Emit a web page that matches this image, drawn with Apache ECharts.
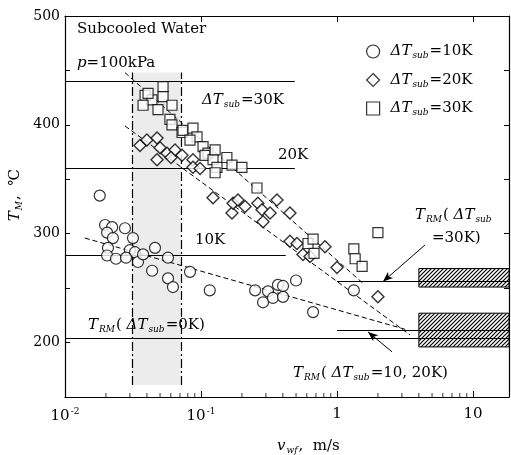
<!DOCTYPE html>
<html>
<head>
<meta charset="utf-8">
<title>T_M vs v_wf</title>
<script src="https://cdn.jsdelivr.net/npm/echarts@6.0.0/dist/echarts.min.js"></script>
<style>html,body{margin:0;padding:0;background:#fff;}</style>
</head>
<body>
<div id="main" style="width:511px;height:455px;"></div>
<script type="text/javascript">
var SERIF = '"DejaVu Serif", "Liberation Serif", serif';

// 测点 [v_wf (m/s), T_M (℃)]
var circles10K = [
    [0.018, 335], [0.0197, 308], [0.0222, 306], [0.0276, 305], [0.0204, 301], [0.0225, 296], [0.0316, 296],
    [0.0207, 287], [0.030, 285], [0.0327, 283], [0.0459, 287], [0.0204, 280], [0.0237, 277], [0.0281, 278],
    [0.0344, 274], [0.0375, 281], [0.0572, 278], [0.0437, 266], [0.0572, 259], [0.0622, 251], [0.083, 265],
    [0.116, 248], [0.25, 248], [0.311, 247], [0.286, 237], [0.338, 241], [0.368, 253], [0.401, 252],
    [0.401, 242], [0.50, 257], [0.667, 228], [1.33, 248]
];
var diamonds20K = [
    [0.0356, 381], [0.040, 386], [0.0475, 388], [0.050, 379], [0.0475, 368], [0.0563, 374], [0.0644, 377],
    [0.0602, 370], [0.0725, 372], [0.0873, 368], [0.0873, 361], [0.0984, 360], [0.1226, 333], [0.169, 319],
    [0.172, 328], [0.187, 331], [0.211, 325], [0.262, 328], [0.281, 322], [0.322, 319], [0.286, 311],
    [0.362, 331], [0.451, 319], [0.451, 293], [0.508, 291], [0.562, 281], [0.633, 279], [0.816, 288],
    [1.0, 269], [2.0, 242]
];
var squares30K = [
    [0.0388, 427], [0.0436, 423], [0.0526, 435], [0.0526, 426], [0.0375, 418], [0.0483, 414], [0.0612, 418],
    [0.0408, 429], [0.0591, 405], [0.0612, 400], [0.0725, 393], [0.0737, 395], [0.0873, 397], [0.0935, 389],
    [0.083, 386], [0.1035, 380], [0.1125, 374], [0.107, 372], [0.1226, 368], [0.127, 377], [0.131, 361],
    [0.127, 356], [0.155, 370], [0.169, 363], [0.200, 361], [0.258, 342], [0.612, 291], [0.667, 295],
    [0.678, 282], [1.33, 286], [1.36, 277], [1.53, 270], [2.0, 301]
];

// 拟合虚线
var fit10K = [[0.014, 296], [3.27, 211.7]];
var fit20K = [[0.0276, 399], [3.44, 207]];
var fit30K = [[0.0276, 448], [1.6, 253]];

// 水平参考线 (ΔT_sub = 30K, 20K, 10K)
var levelT = [440, 360, 280];
var levelEnd = [0.49, 0.49, 0.42];
// T_RM 线: 0K, 10/20K, 30K
var trmT = [204, 211.7, 256];
var trmStart = [0.01, 1, 1];
// 阴影区 & 斜线带
var shadeV = [0.031, 0.071];
var shadeT = [161, 448];
var bandStartV = 4;
var bandUpper = [251, 268];
var bandLower = [196, 227];
// 箭头 [起点, 终点]
var arrows = [
    [[4.44, 289.7], [2.18, 256]],
    [[2.54, 191.5], [1.69, 209.8]]
];

// 坐标轴刻度
var xMin = 0.01, xMax = 18.4;
var yMin = 150, yMax = 500;
var xTickValues = [0.01, 0.1, 1, 10];
var xTickLabels = ['10{sup|-2}', '10{sup|-1}', '1', '10'];
var xMinorTicks = [0.02, 0.03, 0.04, 0.05, 0.06, 0.07, 0.08, 0.09,
    0.2, 0.3, 0.4, 0.5, 0.6, 0.7, 0.8, 0.9, 2, 3, 4, 5, 6, 7, 8, 9];
var yTickLabels = [200, 300, 400, 500];

// 斜线填充
var hatch = document.createElement('canvas');
hatch.width = 4; hatch.height = 4;
var hc = hatch.getContext('2d');
hc.fillStyle = '#fff'; hc.fillRect(0, 0, 4, 4);
hc.strokeStyle = '#000'; hc.lineWidth = 1.2;
hc.beginPath();
hc.moveTo(0, 4); hc.lineTo(4, 0);
hc.moveTo(-1, 1); hc.lineTo(1, -1);
hc.moveTo(3, 5); hc.lineTo(5, 3);
hc.stroke();

var rich = {
    n: { fontSize: 15, fontFamily: SERIF, color: '#000' },
    i: { fontSize: 15, fontFamily: SERIF, fontStyle: 'italic', color: '#000' },
    s: { fontSize: 9, fontFamily: SERIF, fontStyle: 'italic', color: '#000', padding: [9, 1, 0, 1] },
    sup: { fontSize: 9, fontFamily: SERIF, color: '#000', padding: [0, 0, 9, 1] }
};

function txt(x, y, text) {
    return {
        type: 'text', x: x, y: y, silent: true,
        style: { text: text, rich: rich, verticalAlign: 'middle', fill: '#000' }
    };
}

var legendNames = {
    c10: '{i|ΔT}{s|sub}{n|=10K}',
    d20: '{i|ΔT}{s|sub}{n|=20K}',
    s30: '{i|ΔT}{s|sub}{n|=30K}'
};

var hLines = [];
levelT.forEach(function (t, k) {
    hLines.push([{ coord: [xMin, t] }, { coord: [levelEnd[k], t] }]);
});
trmT.forEach(function (t, k) {
    hLines.push([{ coord: [trmStart[k], t] }, { coord: [xMax, t] }]);
});
var vLines = shadeV.map(function (v) {
    return [{ coord: [v, shadeT[0]], lineStyle: { type: [9, 3, 2, 3], width: 1.2, color: '#000' } }, { coord: [v, shadeT[1]] }];
});
var arrowLines = arrows.map(function (a) {
    return [{ coord: a[0] }, { coord: a[1] }];
});

function fitSeries(data) {
    return {
        type: 'line', data: data, symbol: 'none', silent: true, z: 3,
        lineStyle: { color: '#000', width: 1, type: [5, 3] }
    };
}

var openStyle = { color: '#fff', borderColor: '#000', borderWidth: 1.2 };

var myChart = echarts.init(document.getElementById('main'));
myChart.setOption({
    animation: false,
    backgroundColor: '#fff',
    textStyle: { fontFamily: SERIF },
    grid: { left: 65, right: 2, top: 16, bottom: 58 },
    legend: {
        orient: 'vertical', left: 361, top: 39,
        itemWidth: 13, itemHeight: 13, itemGap: 12,
        data: ['c10', 'd20', 's30'],
        itemStyle: openStyle,
        formatter: function (name) { return legendNames[name]; },
        textStyle: { rich: rich, padding: [0, 0, 0, 6] }
    },
    xAxis: [{
        type: 'log', min: xMin, max: xMax, logBase: 10,
        axisLine: { lineStyle: { color: '#000', width: 1.2 } },
        axisTick: { inside: true, length: 6, lineStyle: { color: '#000' } },
        splitLine: { show: false },
        axisLabel: {
            margin: 10, showMinLabel: true, showMaxLabel: false, rich: rich,
            fontFamily: SERIF, fontSize: 15, color: '#000',
            formatter: function (v) {
                for (var k = 0; k < xTickValues.length; k++) {
                    if (Math.abs(Math.log10(v) - Math.log10(xTickValues[k])) < 1e-6) return xTickLabels[k];
                }
                return '';
            }
        }
    }, {
        type: 'log', min: xMin, max: xMax, logBase: 10, position: 'top',
        axisLine: { lineStyle: { color: '#000', width: 1.2 } },
        axisTick: { inside: true, length: 6, lineStyle: { color: '#000' } },
        axisLabel: { show: false }, splitLine: { show: false }
    }],
    yAxis: [{
        type: 'value', min: yMin, max: yMax, interval: 50,
        axisLine: { show: true, lineStyle: { color: '#000', width: 1.2 } },
        axisTick: { show: true, inside: true, length: 5, lineStyle: { color: '#000' } },
        splitLine: { show: false },
        axisLabel: {
            margin: 5, fontFamily: SERIF, fontSize: 14, color: '#000',
            formatter: function (v) { return yTickLabels.indexOf(v) >= 0 ? String(v) : ''; }
        }
    }, {
        type: 'value', min: yMin, max: yMax, interval: 50, position: 'right',
        axisLine: { show: true, lineStyle: { color: '#000', width: 1.2 } },
        axisTick: { show: true, inside: true, length: 5, lineStyle: { color: '#000' } },
        axisLabel: { show: false }, splitLine: { show: false }
    }],
    graphic: [
        txt(77, 29, '{n|Subcooled Water}'),
        txt(77, 63, '{i|p}{n|=100kPa}'),
        txt(202, 100, '{i|ΔT}{s|sub}{n|=30K}'),
        txt(278, 155, '{n|20K}'),
        txt(195, 240, '{n|10K}'),
        txt(88, 325, '{i|T}{s|RM}{n|( }{i|ΔT}{s|sub}{n|=0K)}'),
        txt(415, 215, '{i|T}{s|RM}{n|( }{i|ΔT}{s|sub}'),
        txt(432, 238, '{n|=30K)}'),
        txt(293, 373, '{i|T}{s|RM}{n|( }{i|ΔT}{s|sub}{n|=10, 20K)}'),
        txt(277, 446, '{i|v}{s|wf}{n|,  m/s}'),
        {
            type: 'text', x: 15, y: 195, rotation: Math.PI / 2, silent: true,
            style: { text: '{i|T}{s|M}{n|,  ℃}', rich: rich, align: 'center', verticalAlign: 'middle' }
        }
    ],
    series: [
        {
            // 阴影区、斜线带、参考线
            type: 'line', data: [], silent: true, z: 1,
            markArea: {
                silent: true,
                data: [
                    [{ coord: [shadeV[0], shadeT[0]], itemStyle: { color: 'rgba(0,0,0,0.075)' } }, { coord: [shadeV[1], shadeT[1]] }],
                    [{ coord: [bandStartV, bandUpper[0]], itemStyle: { color: { image: hatch, repeat: 'repeat' }, borderColor: '#000', borderWidth: 1 } }, { coord: [xMax, bandUpper[1]] }],
                    [{ coord: [bandStartV, bandLower[0]], itemStyle: { color: { image: hatch, repeat: 'repeat' }, borderColor: '#000', borderWidth: 1 } }, { coord: [xMax, bandLower[1]] }]
                ]
            },
            markLine: {
                silent: true, symbol: 'none', label: { show: false },
                lineStyle: { color: '#000', width: 1, type: 'solid' },
                data: hLines.concat(vLines)
            }
        },
        {
            // 箭头
            type: 'line', data: [], silent: true, z: 4,
            markLine: {
                silent: true, symbol: ['none', 'arrow'], symbolSize: [6, 10], label: { show: false },
                lineStyle: { color: '#000', width: 1, type: 'solid' },
                data: arrowLines
            }
        },
        fitSeries(fit10K),
        fitSeries(fit20K),
        fitSeries(fit30K),
        {
            name: 'c10', type: 'scatter', data: circles10K, symbol: 'circle', symbolSize: 11,
            itemStyle: openStyle, z: 5
        },
        {
            name: 'd20', type: 'scatter', data: diamonds20K, symbol: 'diamond', symbolSize: 12,
            itemStyle: { color: '#fff', borderColor: '#000', borderWidth: 1.4 }, z: 5
        },
        {
            name: 's30', type: 'scatter', data: squares30K, symbol: 'rect', symbolSize: 10,
            itemStyle: openStyle, z: 5
        },
        {
            // x 轴次刻度
            type: 'scatter', silent: true, clip: false, z: 6,
            data: xMinorTicks.map(function (v) { return [v, yMin]; }),
            symbol: 'rect', symbolSize: [1, 4], symbolOffset: [0, -2],
            itemStyle: { color: '#000' }
        }
    ]
});
</script>
</body>
</html>
